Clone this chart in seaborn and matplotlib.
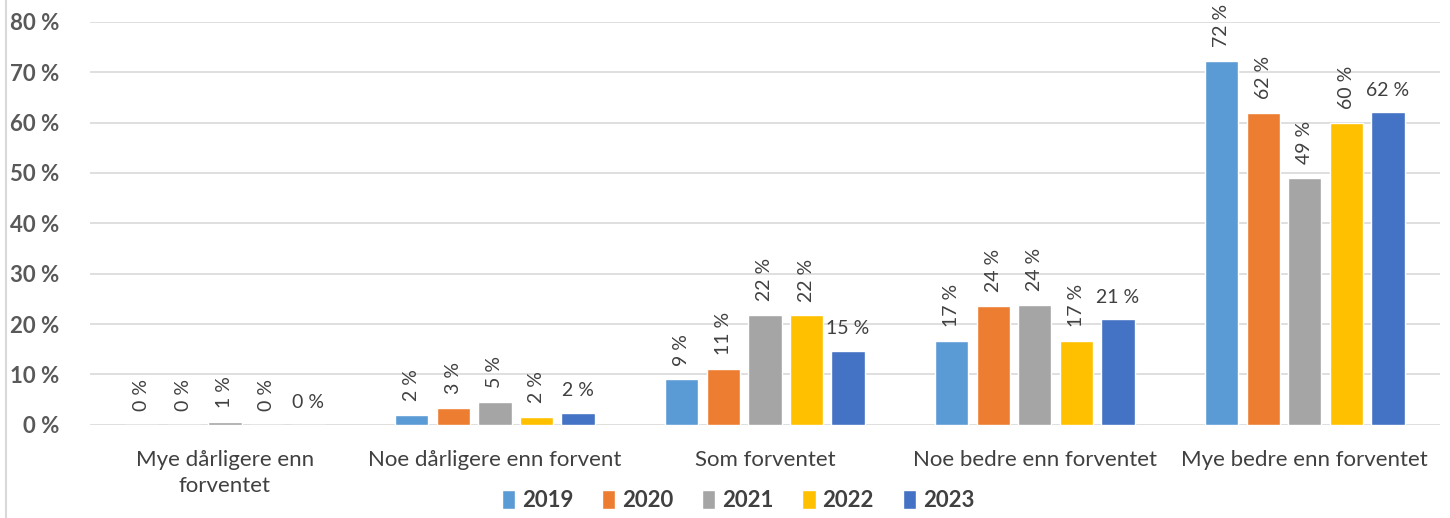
import matplotlib
matplotlib.use("Agg")
import matplotlib.pyplot as plt
import seaborn as sns
import pandas as pd
from matplotlib.lines import Line2D

# Data
kategorier = ["Mye dårligere enn\nforventet", "Noe dårligere enn forvent", "Som forventet",
              "Noe bedre enn forventet", "Mye bedre enn forventet"]
aar = ["2019", "2020", "2021", "2022", "2023"]
v2019 = [0.0, 2.0, 9.0, 16.6, 72.2]
v2020 = [0.0, 3.4, 11.1, 23.6, 61.9]
v2021 = [0.6, 4.6, 21.8, 23.8, 49.0]
v2022 = [0.0, 1.5, 21.7, 16.6, 60.0]
v2023 = [0.0, 2.4, 14.7, 20.9, 62.0]
farger = ["#5B9BD5", "#ED7D31", "#A5A5A5", "#FFC000", "#4472C4"]

# long format for seaborn
rader = []
for a, verdier in zip(aar, [v2019, v2020, v2021, v2022, v2023]):
    for k, v in zip(kategorier, verdier):
        rader.append({"kategori": k, "aar": a, "andel": v})
df = pd.DataFrame(rader)

sns.set_style("white")
plt.rcParams["font.family"] = ["Lato", "DejaVu Sans"]

fig = plt.figure(figsize=(14.5, 5.18), dpi=100)
ax = fig.add_axes([0.062, 0.180, 0.931, 0.778])

sns.barplot(data=df, x="kategori", y="andel", hue="aar", palette=farger,
            width=0.77, gap=0.2, saturation=1, ax=ax, legend=True)

ax.set_ylim(0, 80)
ax.set_yticks(range(0, 81, 10))
ax.set_yticklabels([f"{t} %" for t in range(0, 81, 10)], fontsize=16,
                   fontweight="bold", color="#595959")
ax.yaxis.grid(True, color="#D9D9D9", linewidth=1.2)
ax.set_axisbelow(True)
for s in ax.spines.values():
    s.set_visible(False)
ax.tick_params(axis="both", length=0)
ax.tick_params(axis="y", pad=22)
ax.tick_params(axis="x", pad=18)
ax.set_xlabel("")
ax.set_ylabel("")
for lab in ax.get_xticklabels():
    lab.set_fontsize(16)
    lab.set_color("#404040")
    lab.set_linespacing(1.4)

# data labels: rotated for all but the last series
for i, cont in enumerate(ax.containers):
    tekster = [f"{b.get_height():.0f} %" for b in cont]
    if i < len(ax.containers) - 1:
        ax.bar_label(cont, labels=tekster, rotation=90, padding=10,
                     fontsize=14, color="#404040")
    else:
        ax.bar_label(cont, labels=tekster, padding=10, fontsize=14, color="#404040")

ax.legend(loc="center", bbox_to_anchor=(0.48, -0.188), ncol=5, frameon=False,
          prop={"weight": "bold", "size": 16}, handlelength=0.6, handleheight=0.9,
          handletextpad=0.3, columnspacing=1.3, labelcolor="#404040")

fig.add_artist(Line2D([0.004, 0.004], [0, 1], color="#D9D9D9", linewidth=1.5))

fig.savefig("out.png", dpi=100)
